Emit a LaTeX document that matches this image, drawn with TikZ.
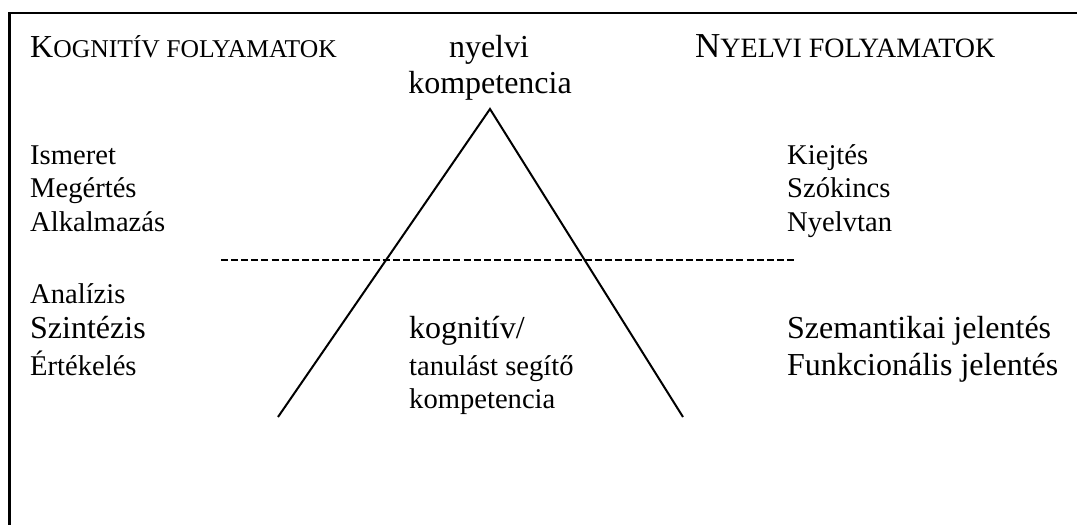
\documentclass[tikz,border=0pt]{standalone}
\usepackage{fontspec}
\setmainfont{Liberation Serif}
\newcommand{\nsz}{\fontsize{28.6}{33}\selectfont}
\newcommand{\lsz}{\fontsize{32}{37}\selectfont}
\newcommand{\scsz}{\fontsize{25.6}{30}\selectfont}
\newcommand{\hlsz}{\fontsize{35}{40}\selectfont}
\newcommand{\hscsz}{\fontsize{28}{33}\selectfont}
\begin{document}
\begin{tikzpicture}[x=1pt,y=-1pt,
  txt/.style={anchor=base west,inner sep=0pt,font=\nsz},
  big/.style={anchor=base west,inner sep=0pt,font=\lsz},
  mid/.style={anchor=base,inner sep=0pt,font=\lsz},
  frame/.style={line width=2.5pt},
  tri/.style={line width=2pt},
  dashln/.style={line width=2.6pt,dash pattern=on 7pt off 3.107pt}]
\useasboundingbox (0,0) rectangle (1077,525);
\coordinate (fb) at (9.5,525);
\coordinate (fc) at (9.5,13);
\coordinate (fr) at (1077,13);
\draw[frame] (fb) -- (fc) -- (fr);
% headers
\node[txt] (hk) at (30,57) {\lsz K\scsz OGNITÍV FOLYAMATOK};
\node[mid] (ny) at (489,57) {nyelvi};
\node[mid] (komp) at (490,93) {kompetencia};
\node[txt] (hn) at (695,57) {\hlsz N\hscsz YELVI FOLYAMATOK};
% left column
\node[txt] (l1) at (30,164) {Ismeret};
\node[txt] (l2) at (30,197) {Megértés};
\node[txt] (l3) at (30,231) {Alkalmazás};
\node[txt] (l4) at (30,303) {Analízis};
\node[big] (l5) at (30,338) {Szintézis};
\node[txt] (l6) at (30,375) {Értékelés};
% centre bottom
\node[big] (c1) at (409,338) {kognitív/};
\node[txt] (c2) at (409,375) {tanulást segítő};
\node[txt] (c3) at (409,408) {kompetencia};
% right column
\node[txt] (r1) at (787,164) {Kiejtés};
\node[txt] (r2) at (787,197) {Szókincs};
\node[txt] (r3) at (787,231) {Nyelvtan};
\node[big] (r4) at (787,338) {Szemantikai jelentés};
\node[big] (r5) at (787,375) {Funkcionális jelentés};
% triangle
\coordinate (apex) at (490,109);
\coordinate (bl) at (278,417);
\coordinate (br) at (683,417);
\draw[tri] (bl) -- (apex) -- (br);
% dashed line
\coordinate (dl) at (221,260);
\coordinate (dr) at (794,260);
\draw[dashln] (dl) -- (dr);
\end{tikzpicture}
\end{document}
